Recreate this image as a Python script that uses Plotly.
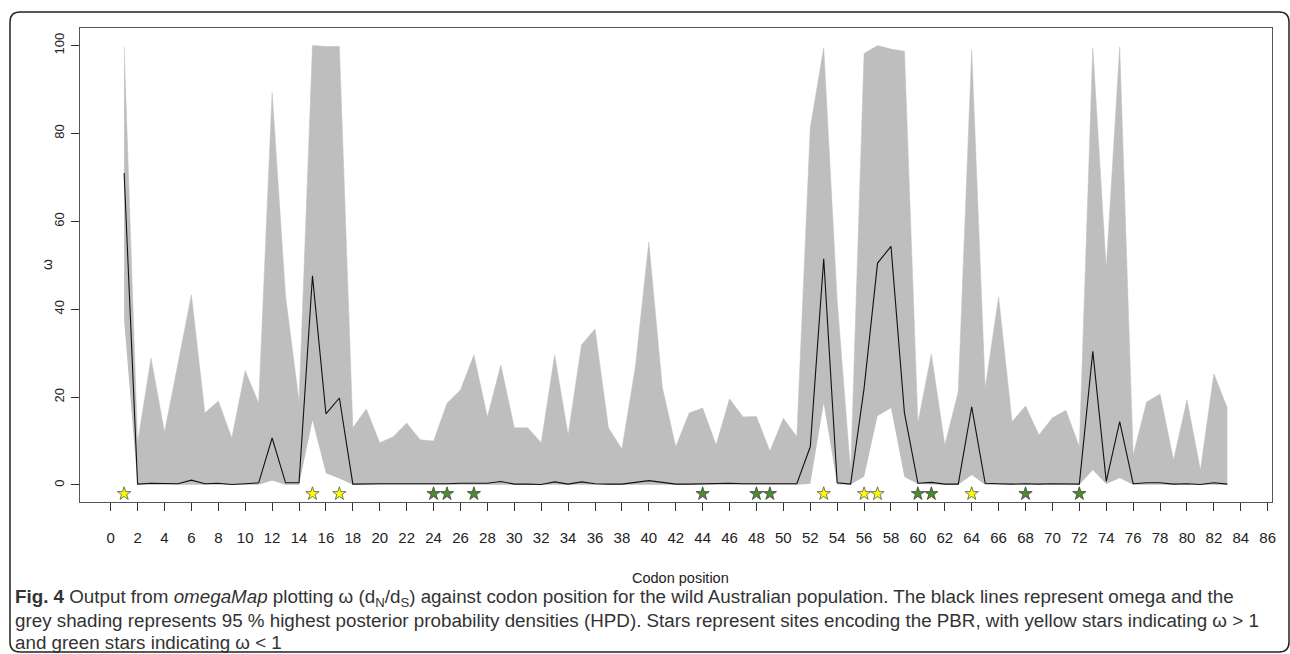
import plotly.graph_objects as go

positions = list(range(1, 84))

upper = [99.8, 9.5, 28.9, 12.0, 27.6, 43.3, 16.4, 19.1, 10.7, 26.0,
         18.6, 89.3, 43.0, 19.0, 100.0, 99.8, 99.8, 13.0, 17.3, 9.6,
         11.0, 14.1, 10.3, 10.0, 18.6, 21.6, 29.6, 15.5, 27.3, 13.0,
         13.0, 9.6, 29.6, 11.4, 31.9, 35.5, 13.0, 8.2, 26.9, 55.3,
         22.3, 8.7, 16.4, 17.5, 9.1, 19.6, 15.5, 15.6, 7.7, 15.2,
         11.0, 81.3, 99.5, 42.0, 3.0, 98.2, 100.0, 99.2, 98.7, 14.1,
         29.8, 9.1, 21.2, 99.0, 22.0, 42.8, 14.4, 18.0, 11.4, 15.3,
         17.0, 8.7, 99.5, 49.2, 99.7, 6.8, 18.9, 20.7, 5.7, 19.4,
         3.4, 25.3, 17.5]

lower = [37.5, 0.05, 0.05, 0.05, 0.05, 0.1, 0.05, 0.05, 0.05, 0.05,
         0.05, 1.0, 0.05, 0.05, 14.7, 2.7, 1.5, 0.05, 0.05, 0.05,
         0.05, 0.05, 0.05, 0.05, 0.05, 0.05, 0.05, 0.05, 0.05, 0.05,
         0.05, 0.05, 0.05, 0.05, 0.05, 0.05, 0.05, 0.05, 0.05, 0.05,
         0.05, 0.05, 0.05, 0.05, 0.05, 0.05, 0.05, 0.05, 0.05, 0.05,
         0.05, 0.3, 18.6, 0.1, 0.1, 1.9, 15.7, 17.5, 1.8, 0.2,
         0.05, 0.05, 0.05, 2.3, 0.05, 0.05, 0.05, 0.05, 0.05, 0.05,
         0.05, 0.05, 3.4, 0.2, 1.6, 0.05, 0.05, 0.05, 0.05, 0.05,
         0.05, 0.05, 0.05]

omega = [71.0, 0.2, 0.4, 0.3, 0.3, 1.1, 0.3, 0.4, 0.1, 0.3,
         0.5, 10.7, 0.5, 0.5, 47.6, 16.2, 19.8, 0.2, 0.3, 0.3,
         0.3, 0.3, 0.2, 0.2, 0.3, 0.4, 0.4, 0.4, 0.8, 0.2,
         0.2, 0.1, 0.7, 0.2, 0.7, 0.3, 0.2, 0.2, 0.6, 1.0,
         0.6, 0.2, 0.2, 0.3, 0.3, 0.4, 0.3, 0.3, 0.2, 0.3,
         0.3, 8.7, 51.5, 0.5, 0.2, 22.0, 50.5, 54.3, 16.4, 0.4,
         0.6, 0.2, 0.2, 17.8, 0.4, 0.3, 0.2, 0.3, 0.2, 0.3,
         0.3, 0.2, 30.4, 0.8, 14.4, 0.3, 0.5, 0.5, 0.2, 0.3,
         0.1, 0.5, 0.2]

yellow_sites = [1, 15, 17, 53, 56, 57, 64]
green_sites = [24, 25, 27, 44, 48, 49, 60, 61, 68, 72]
star_level = -2.0

x_ticks = list(range(0, 87, 2))
y_ticks = [0, 20, 40, 60, 80, 100]

W, H = 1290, 654
L, R, T, B = 80, 18, 28, 152
pw, ph = W - L - R, H - T - B

def px(x):
    return (x - L) / pw

def py(y):
    return (H - B - y) / ph

NARROW = "Liberation Sans Narrow, Arial Narrow, sans-serif"
REG = "Liberation Sans, Arial, sans-serif"

fig = go.Figure()
fig.add_trace(go.Scatter(x=positions, y=lower, mode="lines",
                         line=dict(width=0, color="rgba(0,0,0,0)"),
                         showlegend=False, hoverinfo="skip"))
fig.add_trace(go.Scatter(x=positions, y=upper, mode="lines", fill="tonexty",
                         fillcolor="#BEBEBE",
                         line=dict(width=0.5, color="#BEBEBE"),
                         showlegend=False, name="95% HPD"))
fig.add_trace(go.Scatter(x=positions, y=omega, mode="lines",
                         line=dict(width=1.1, color="#111111"),
                         showlegend=False, name="omega"))
fig.add_trace(go.Scatter(x=yellow_sites, y=[star_level] * len(yellow_sites),
                         mode="markers",
                         marker=dict(symbol="star", size=10, color="#FFFF00",
                                     line=dict(color="#555555", width=0.8)),
                         showlegend=False, name="PBR ω > 1"))
fig.add_trace(go.Scatter(x=green_sites, y=[star_level] * len(green_sites),
                         mode="markers",
                         marker=dict(symbol="star", size=10, color="#4C8C2B",
                                     line=dict(color="#444444", width=0.8)),
                         showlegend=False, name="PBR ω < 1"))

fig.update_xaxes(range=[-2.28, 86.32], tickmode="array", tickvals=x_ticks,
                 ticktext=[str(v) for v in x_ticks],
                 ticks="outside", ticklen=8, tickwidth=1, tickcolor="#333333",
                 ticklabelstandoff=14,
                 showline=True, linecolor="#555555", linewidth=1, mirror=True,
                 showgrid=False, zeroline=False,
                 tickfont=dict(family=NARROW, size=15, color="#222222"))
fig.update_yaxes(range=[-3.87, 104.0], tickmode="array", tickvals=y_ticks,
                 ticktext=[str(v) for v in y_ticks], tickangle=-90,
                 ticks="outside", ticklen=8, tickwidth=1, tickcolor="#333333",
                 ticklabelstandoff=2,
                 showline=True, linecolor="#555555", linewidth=1, mirror=True,
                 showgrid=False, zeroline=False,
                 tickfont=dict(family=REG, size=13, color="#222222"))

# axis titles
fig.add_annotation(text="ω", xref="paper", yref="paper", x=px(47), y=py(265),
                   xanchor="center", yanchor="middle", textangle=-90,
                   showarrow=False, font=dict(family=REG, size=14, color="#222222"))
fig.add_annotation(text="Codon position", xref="paper", yref="paper",
                   x=px(680), y=py(578), xanchor="center", yanchor="middle",
                   showarrow=False, font=dict(family=NARROW, size=14.5, color="#222222"))

# rounded border around figure
x0, x1, y0, y1, r = 10, 1289, 12, 652, 10
path = (f"M {px(x0)},{py(y0 + r)} "
        f"Q {px(x0)},{py(y0)} {px(x0 + r)},{py(y0)} "
        f"L {px(x1 - r)},{py(y0)} "
        f"Q {px(x1)},{py(y0)} {px(x1)},{py(y0 + r)} "
        f"L {px(x1)},{py(y1 - r)} "
        f"Q {px(x1)},{py(y1)} {px(x1 - r)},{py(y1)} "
        f"L {px(x0 + r)},{py(y1)} "
        f"Q {px(x0)},{py(y1)} {px(x0)},{py(y1 - r)} Z")
fig.add_shape(type="path", path=path, xref="paper", yref="paper",
              line=dict(color="#222222", width=1.5), layer="below")

caption_lines = [
    "<b>Fig. 4</b> Output from <i>omegaMap</i> plotting ω (d<sub>N</sub>/d<sub>S</sub>) against codon position for the wild Australian population. The black lines represent omega and the",
    "grey shading represents 95 % highest posterior probability densities (HPD). Stars represent sites encoding the PBR, with yellow stars indicating ω > 1",
    "and green stars indicating ω < 1",
]
caption_y = [598, 620, 642]
for txt, yy in zip(caption_lines, caption_y):
    fig.add_annotation(text=txt, xref="paper", yref="paper",
                       x=px(13), y=py(yy), xanchor="left", yanchor="middle",
                       showarrow=False, align="left",
                       font=dict(family=REG, size=18.8, color="#333333"))

fig.update_layout(width=W, height=H, margin=dict(l=L, r=R, t=T, b=B),
                  paper_bgcolor="white", plot_bgcolor="white",
                  showlegend=False)

fig.write_html("out.html", config={"displayModeBar": False},
               post_script="document.body.style.margin='0px';document.body.style.padding='0px';")
